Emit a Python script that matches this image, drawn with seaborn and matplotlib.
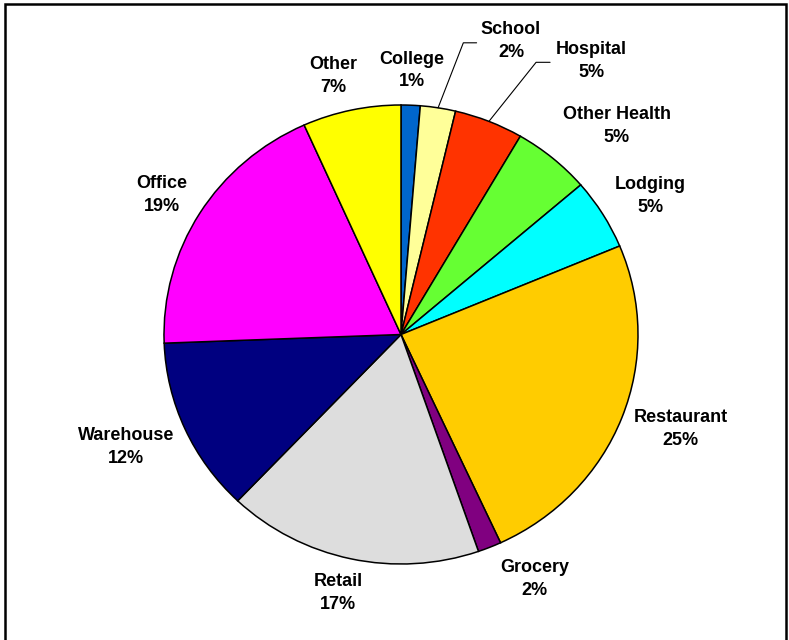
import numpy as np
import matplotlib
matplotlib.use("Agg")
import matplotlib.pyplot as plt
import seaborn as sns
from matplotlib.patches import Rectangle

# ---- data ----
categories = ["College", "School", "Hospital", "Other Health", "Lodging",
              "Restaurant", "Grocery", "Retail", "Warehouse", "Office", "Other"]
shares = [1.3, 2.4, 4.7, 5.3, 5.0, 24.4, 1.6, 17.4, 12.3, 18.9, 6.7]
colors = ["#0066CC", "#FFFF99", "#FF3300", "#66FF33", "#00FFFF",
          "#FFCC00", "#800080", "#DDDDDD", "#000080", "#FF00FF", "#FFFF00"]
pct_labels = ["1%", "2%", "5%", "5%", "5%", "25%", "2%", "17%", "12%", "19%", "7%"]

# ---- layout (label centres in pie-radius units) ----
label_xy = [(0.046, 1.150), (0.464, 1.280), (0.802, 1.192), (0.911, 0.908),
            (1.051, 0.603), (1.181, -0.412), (0.565, -1.066), (-0.266, -1.127),
            (-1.160, -0.491), (-1.008, 0.607), (-0.287, 1.126)]
leader_elbows = {"School": [(0.263, 1.271), (0.319, 1.271)],
                 "Hospital": [(0.570, 1.186), (0.629, 1.186)]}

sns.set_theme(style="white")
plt.rcParams["font.family"] = ["Liberation Sans", "DejaVu Sans"]

fig = plt.figure(figsize=(7.89, 6.40), dpi=100)
ax = fig.add_axes([0, 0, 1, 1])

wedges, _ = ax.pie(shares, colors=colors, startangle=90, counterclock=False,
                   wedgeprops=dict(edgecolor="black", linewidth=1.1))

# map pie to reference pixel geometry (slightly flattened ellipse)
ax.set_aspect("auto")
ax.set_xlim(-401 / 237, (789 - 401) / 237)
ax.set_ylim((334.5 - 640) / 229.5, 334.5 / 229.5)
ax.axis("off")

for w, name, pct, (lx, ly) in zip(wedges, categories, pct_labels, label_xy):
    ax.text(lx, ly, f"{name}\n{pct}", ha="center", va="center",
            fontsize=13, fontweight="bold", color="black", linespacing=1.45,
            clip_on=False)
    if name in leader_elbows:
        mid = np.deg2rad((w.theta1 + w.theta2) / 2)
        pts = [(np.cos(mid), np.sin(mid))] + leader_elbows[name]
        xs, ys = zip(*pts)
        ax.plot(xs, ys, color="black", lw=0.8, clip_on=False)

fig.patches.append(Rectangle((5 / 789, -0.02), (786 - 5) / 789, 1.02 - 4 / 640,
                             transform=fig.transFigure, fill=False,
                             edgecolor="black", linewidth=1.8))

fig.savefig("out.png", dpi=100)
